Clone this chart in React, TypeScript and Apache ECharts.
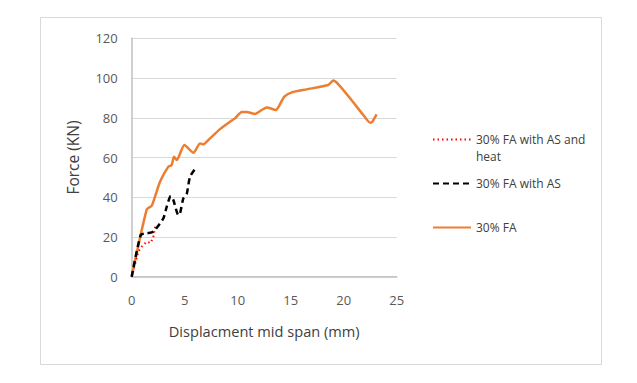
import React, { useEffect, useRef } from "react";
import * as echarts from "echarts";

const seriesNames = ["30% FA with AS and heat", "30% FA with AS", "30% FA"];

const redX = [0, 0.62, 0.94, 1.42, 1.79, 2.04, 2.25];
const redY = [0, 12.6, 15.1, 17.6, 17.0, 20.1, 26.0];

const blackX = [0, 0.85, 1.42, 1.89, 2.2, 2.99, 3.3, 3.68, 3.93, 4.4, 4.56, 4.87, 5.19, 5.5, 6.13];
const blackY = [0, 21.0, 21.8, 22.3, 23.5, 29.4, 35.2, 40.6, 38.6, 31.0, 31.9, 39.4, 41.6, 50.3, 55.4];

const orangeX = [0, 1.42, 1.89, 2.67, 3.46, 3.77, 3.99, 4.25, 4.97, 5.82, 6.45, 6.76, 7.39, 8.33, 9.28, 9.75, 10.38, 10.85, 11.64, 12.26, 12.74, 13.62, 13.9, 14.4, 15.1, 16.5, 18.55, 19.0, 19.5, 20.6, 21.85, 22.5, 22.7, 23.1];
const orangeY = [0, 33.9, 35.7, 47.8, 55.4, 56.2, 60.4, 58.7, 66.3, 62.4, 67.1, 66.6, 69.6, 74.3, 78.0, 79.7, 82.9, 82.9, 81.9, 83.9, 85.2, 83.9, 85.9, 90.6, 92.8, 94.3, 96.5, 98.7, 96.8, 89.8, 81.4, 77.5, 78.0, 81.7];

const xTicks = [0, 5, 10, 15, 20, 25];
const yTicks = [0, 20, 40, 60, 80, 100, 120];

const pair = (xs: number[], ys: number[]) => xs.map((x, i) => [x, ys[i]]);

const FONT = "'Open Sans', 'Noto Sans', sans-serif";

export default function App() {
  const ref = useRef<HTMLDivElement>(null);
  useEffect(() => {
    if (!ref.current) return;
    const chart = echarts.init(ref.current, undefined, { renderer: "svg" });
    const legendBase = {
      orient: "vertical" as const,
      left: 432,
      padding: 0,
      itemWidth: 38,
      itemHeight: 10,
      itemGap: 9,
      itemStyle: { color: "transparent", borderColor: "transparent", borderWidth: 0, opacity: 0 },
      textStyle: { fontFamily: FONT, fontSize: 12, color: "#404040", lineHeight: 17 },
    };
    chart.setOption({
      animation: false,
      backgroundColor: "#ffffff",
      textStyle: { fontFamily: FONT },
      graphic: [
        {
          type: "rect",
          shape: { x: 40.5, y: 17.5, width: 561, height: 347 },
          style: { fill: "none", stroke: "#d9d9d9", lineWidth: 1 },
          silent: true,
        },
      ],
      grid: { left: 131.7, right: 240.3, top: 38.3, bottom: 106.3, containLabel: false },
      xAxis: {
        type: "value",
        min: xTicks[0],
        max: xTicks[xTicks.length - 1],
        interval: 5,
        name: "Displacment mid span (mm)",
        nameLocation: "middle",
        nameGap: 47,
        nameTextStyle: { fontFamily: FONT, fontSize: 14.6, color: "#404040" },
        axisLine: { show: true, lineStyle: { color: "#bfbfbf", width: 1.5 } },
        axisTick: { show: false },
        splitLine: { show: false },
        axisLabel: { margin: 17, fontFamily: FONT, fontSize: 13, color: "#595959" },
      },
      yAxis: {
        type: "value",
        min: yTicks[0],
        max: yTicks[yTicks.length - 1],
        interval: 20,
        name: "Force (KN)",
        nameLocation: "middle",
        nameGap: 51,
        nameTextStyle: { fontFamily: FONT, fontSize: 15.5, color: "#404040" },
        axisLine: { show: true, lineStyle: { color: "#bfbfbf", width: 1.5 } },
        axisTick: { show: false },
        splitLine: { show: true, lineStyle: { color: "#d9d9d9", width: 1 } },
        axisLabel: { margin: 14, fontFamily: FONT, fontSize: 13, color: "#595959" },
      },
      legend: [
        {
          ...legendBase,
          top: 114,
          data: [seriesNames[0]],
          formatter: () => "\n30% FA with AS and\nheat",
        },
        { ...legendBase, top: 175, data: [seriesNames[1]] },
        { ...legendBase, top: 219, data: [seriesNames[2]] },
      ],
      series: [
        {
          name: seriesNames[0],
          type: "line",
          data: pair(redX, redY),
          showSymbol: false,
          symbol: "none",
          z: 3,
          lineStyle: { color: "#ff0000", width: 2, type: [1.5, 3] },
          itemStyle: { color: "#ff0000" },
        },
        {
          name: seriesNames[1],
          type: "line",
          data: pair(blackX, blackY),
          showSymbol: false,
          symbol: "none",
          smooth: 0.2,
          z: 4,
          lineStyle: { color: "#000000", width: 2.5, type: [6, 4] },
          itemStyle: { color: "#000000" },
        },
        {
          name: seriesNames[2],
          type: "line",
          data: pair(orangeX, orangeY),
          showSymbol: false,
          symbol: "none",
          smooth: 0.2,
          z: 2,
          lineStyle: { color: "#ed7d31", width: 2.5 },
          itemStyle: { color: "#ed7d31" },
        },
      ],
    });
    return () => chart.dispose();
  }, []);
  return (
    <div
      ref={ref}
      style={{ position: "absolute", left: 0, top: 0, width: 637, height: 383 }}
    />
  );
}
